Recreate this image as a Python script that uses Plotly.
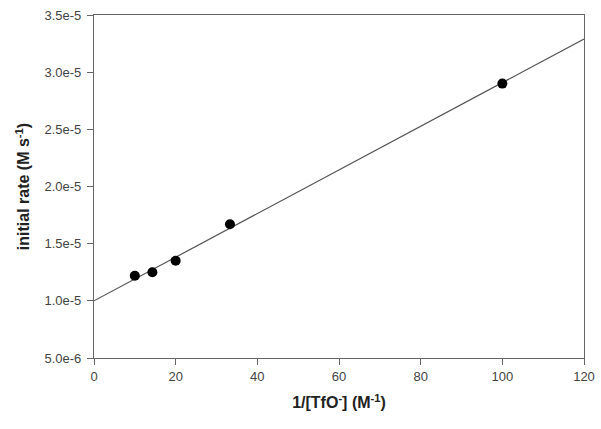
import plotly.graph_objects as go

# data
inv_tfo = [10, 14.3, 20, 33.3, 100]
rate = [1.22e-5, 1.25e-5, 1.35e-5, 1.67e-5, 2.90e-5]

fit_x = [0, 120]
fit_y = [1.0e-5, 3.29e-5]

y_ticks = [5e-6, 1e-5, 1.5e-5, 2e-5, 2.5e-5, 3e-5, 3.5e-5]
y_labels = ["5.0e-6", "1.0e-5", "1.5e-5", "2.0e-5", "2.5e-5", "3.0e-5", "3.5e-5"]
x_ticks = [0, 20, 40, 60, 80, 100, 120]

fig = go.Figure()
fig.add_trace(go.Scatter(x=fit_x, y=fit_y, mode="lines",
                         line=dict(color="#555555", width=1.2), showlegend=False))
fig.add_trace(go.Scatter(x=inv_tfo, y=rate, mode="markers",
                         marker=dict(color="black", size=10), showlegend=False))

axis_style = dict(showline=True, linecolor="#666666", linewidth=1.2, mirror=True,
                  showgrid=False, zeroline=False, ticks="outside", ticklen=6,
                  tickcolor="#666666", automargin=False,
                  tickfont=dict(size=13, color="#444444"))

fig.update_layout(
    width=601, height=429,
    margin=dict(l=94, r=17, t=15, b=71),
    paper_bgcolor="white", plot_bgcolor="white",
    font=dict(family="Liberation Sans, Arial, sans-serif"),
    xaxis=dict(range=[0, 120], tickvals=x_ticks,
               title=dict(text="<b>1/[TfO<sup>-</sup>] (M<sup>-1</sup>)</b>",
                          font=dict(size=16, color="#222222"), standoff=14),
               **axis_style),
    yaxis=dict(range=[5e-6, 3.5e-5], tickvals=y_ticks, ticktext=y_labels,
               ticklabelstandoff=3,
               title=dict(text="<b>initial rate (M s<sup>-1</sup>)</b>",
                          font=dict(size=16, color="#222222"), standoff=10),
               **axis_style),
)

# drop the page's default body margin so the figure fills the window
fig.write_html("out.html", config={"displayModeBar": False},
               post_script="document.body.style.margin='0';")
